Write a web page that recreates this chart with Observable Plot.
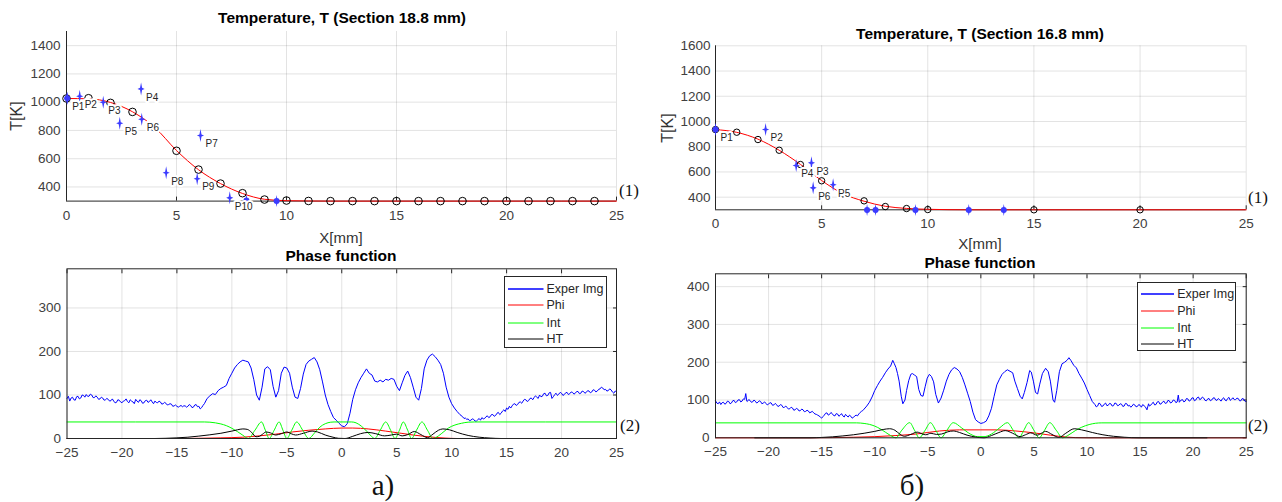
<!DOCTYPE html>
<html><head><meta charset="utf-8">
<script src="https://cdn.jsdelivr.net/npm/d3@7"></script>
<script src="https://cdn.jsdelivr.net/npm/@observablehq/plot@0.6"></script>
<style>
body{margin:0;background:#fff;}
#root{position:relative;width:1282px;height:502px;background:#fff;overflow:hidden;font-family:"Liberation Sans",Arial,sans-serif;color:#262626;}
.panel{position:absolute;}
.lbl{position:absolute;transform:translate(-50%,-50%);white-space:nowrap;line-height:1;}
.ttl{font-weight:bold;font-size:15.5px;color:#000;}
.axl{font-size:15px;color:#333;}
.ser{font-family:"Liberation Serif","DejaVu Serif",serif;color:#111;}
.legend{position:absolute;border:1px solid #262626;background:#fff;box-sizing:border-box;}
.legend .row{position:absolute;left:0;height:14px;transform:translateY(-50%);}
.legend .row span{position:absolute;top:0;font-size:12.5px;line-height:14px;color:#262626;white-space:nowrap;}
.legend .row svg{position:absolute;top:0;}
</style>
</head><body>
<div id="root">
  <div id="tl" class="panel" style="left:0;top:0;width:640px;"></div>
  <div id="tr" class="panel" style="left:641px;top:0;width:641px;"></div>
  <div id="bl" class="panel" style="left:0;top:250px;width:640px;"></div>
  <div id="br" class="panel" style="left:641px;top:250px;width:641px;"></div>
</div>
<script>
// ---------- tick values ----------
const xTicksTop = [0, 5, 10, 15, 20, 25];
const yTicksTL = [400, 600, 800, 1000, 1200, 1400];
const yTicksTR = [400, 600, 800, 1000, 1200, 1400, 1600];
const xTicksBot = [-25, -20, -15, -10, -5, 0, 5, 10, 15, 20, 25];
const yTicksBL = [0, 100, 200, 300];
const yTicksBR = [0, 100, 200, 300, 400];

// ---------- top-left (Section 18.8 mm) ----------
const circlesA = [[0,1026],[1,1028],[2,995],[3,931],[4,823],[5,656],[6,523],[7,424],[8,356],[9,311],[10,304],[11,301],[12,300],[13,300],[14,300],[15,300],[16,300],[17,300],[18,300],[19,300],[20,300],[21,300],[22,300],[23,300],[24,300]];
const fitA = [[0,1026],[1,1024],[2,998],[3,932],[4,823],[5,658],[6,522],[7,424],[8,354],[9,313],[10,303],[11,301],[12,300],[15,300],[20,300],[25,300]];
const pointsA = [
  {x:0.03, t:1028, name:"P1"}, {x:0.6, t:1042, name:"P2"}, {x:1.67, t:1000, name:"P3"},
  {x:3.39, t:1094, name:"P4"}, {x:2.42, t:851, name:"P5"}, {x:3.42, t:879, name:"P6"},
  {x:6.09, t:764, name:"P7"}, {x:4.53, t:500, name:"P8"}, {x:5.94, t:458, name:"P9"},
  {x:7.42, t:323, name:"P10"}
];
const blueDotsA = [[0.03,1028],[8.18,304],[9.55,300]];

// ---------- top-right (Section 16.8 mm) ----------
const circlesB = [[0,936],[1,915],[2,857],[3,772],[4,659],[5,530],[6,427],[7,371],[8,326],[9,310],[10,302],[15,300],[20,300]];
const fitB = [[0,936],[1,914],[2,860],[3,772],[4,660],[5,532],[6,428],[7,368],[8,328],[9,311],[10,304],[11,301],[12,300],[15,300],[20,300],[25,300]];
const pointsB = [
  {x:0.0, t:936, name:"P1"}, {x:2.36, t:936, name:"P2"}, {x:4.52, t:672, name:"P3"},
  {x:3.8, t:651, name:"P4"}, {x:5.54, t:498, name:"P5"}, {x:4.6, t:474, name:"P6"}
];
const blueDotsB = [[0.0,936],[7.14,298],[7.54,298],[9.42,298],[11.93,299],[13.58,299]];

// ---------- bottom-left (phase function a) ----------
const expA = [[-25,92],[-24.875,97],[-24.75,86],[-24.625,93],[-24.5,95],[-24.375,89],[-24.25,88],[-24.125,96],[-24,97],[-23.875,91],[-23.75,93],[-23.625,100],[-23.5,99],[-23.375,95],[-23.25,101],[-23.125,97],[-23,97],[-22.875,102],[-22.75,100],[-22.625,94],[-22.5,94],[-22.375,98],[-22.25,95],[-22.125,90],[-22,91],[-21.875,95],[-21.75,93],[-21.625,88],[-21.5,89],[-21.375,92],[-21.25,90],[-21.125,86],[-21,87],[-20.875,91],[-20.75,86],[-20.625,82],[-20.5,83],[-20.375,89],[-20.25,88],[-20.125,84],[-20,82],[-19.875,86],[-19.75,87],[-19.625,91],[-19.5,85],[-19.375,82],[-19.25,89],[-19.125,86],[-19,84],[-18.875,80],[-18.75,90],[-18.625,86],[-18.5,83],[-18.375,89],[-18.25,87],[-18.125,81],[-18,82],[-17.875,87],[-17.75,88],[-17.625,83],[-17.5,85],[-17.375,89],[-17.25,84],[-17.125,80],[-17,86],[-16.875,83],[-16.75,82],[-16.625,86],[-16.5,84],[-16.375,79],[-16.25,80],[-16.125,83],[-16,81],[-15.875,77],[-15.75,78],[-15.625,80],[-15.5,79],[-15.375,74],[-15.25,75],[-15.125,77],[-15,74],[-14.875,72],[-14.75,74],[-14.625,76],[-14.5,73],[-14.375,75],[-14.25,75],[-14.125,72],[-14,74],[-13.875,78],[-13.75,76],[-13.625,71],[-13.5,72],[-13.375,77],[-13.25,78],[-13.125,73],[-13,74],[-12.875,68],[-12.75,71],[-12.625,76],[-12.5,80],[-12.25,92],[-12,98],[-11.75,103],[-11.5,101],[-11.25,110],[-11,115],[-10.75,118],[-10.5,122],[-10.25,138],[-10,150],[-9.75,162],[-9.5,170],[-9.25,176],[-9,180],[-8.75,178],[-8.5,176],[-8.25,162],[-8,135],[-7.75,100],[-7.5,88],[-7.25,118],[-7,160],[-6.75,165],[-6.5,158],[-6.25,120],[-6,95],[-5.75,110],[-5.5,150],[-5.25,164],[-5,162],[-4.75,150],[-4.5,118],[-4.25,95],[-4,92],[-3.75,115],[-3.5,148],[-3.25,170],[-3,178],[-2.75,182],[-2.5,186],[-2.25,176],[-2,158],[-1.75,130],[-1.5,100],[-1.25,78],[-1,62],[-0.75,48],[-0.5,42],[-0.25,35],[0,29],[0.25,27],[0.5,34],[0.75,58],[1,90],[1.25,112],[1.5,128],[1.75,140],[2,150],[2.25,160],[2.5,150],[2.75,146],[3,132],[3.25,130],[3.5,134],[3.75,130],[4,136],[4.25,134],[4.5,138],[4.75,136],[5,120],[5.25,110],[5.5,128],[5.75,145],[6,155],[6.25,140],[6.5,118],[6.75,95],[7,88],[7.25,115],[7.5,160],[7.75,180],[8,190],[8.25,194],[8.5,188],[8.75,180],[9,170],[9.25,150],[9.5,118],[9.75,95],[10,80],[10.25,70],[10.5,62],[10.75,55],[11,50],[11.125,46],[11.25,47],[11.375,44],[11.5,45],[11.625,41],[11.75,42],[11.875,45],[12,44],[12.125,40],[12.25,40],[12.375,43],[12.5,46],[12.625,42],[12.75,48],[12.875,45],[13,46],[13.125,50],[13.25,52],[13.375,48],[13.5,50],[13.625,55],[13.75,55],[13.875,51],[14,53],[14.125,58],[14.25,60],[14.375,55],[14.5,58],[14.625,63],[14.75,66],[14.875,62],[15,70],[15.125,67],[15.25,74],[15.375,70],[15.5,75],[15.625,79],[15.75,80],[15.875,76],[16,78],[16.125,83],[16.25,84],[16.375,81],[16.5,86],[16.625,90],[16.75,89],[16.875,85],[17,87],[17.125,92],[17.25,93],[17.375,89],[17.5,94],[17.625,98],[17.75,95],[17.875,92],[18,100],[18.125,96],[18.25,97],[18.375,103],[18.5,104],[18.625,98],[18.75,99],[18.875,105],[19,106],[19.125,92],[19.25,96],[19.375,101],[19.5,104],[19.625,99],[19.75,102],[19.875,106],[20,104],[20.125,99],[20.25,101],[20.375,105],[20.5,106],[20.625,101],[20.75,103],[20.875,107],[21,106],[21.125,102],[21.25,104],[21.375,108],[21.5,108],[21.625,103],[21.75,104],[21.875,109],[22,108],[22.125,104],[22.25,106],[22.375,110],[22.5,109],[22.625,105],[22.75,107],[22.875,112],[23,111],[23.125,107],[23.25,109],[23.375,113],[23.5,114],[23.625,118],[23.75,116],[23.875,112],[24,113],[24.125,109],[24.25,110],[24.375,114],[24.5,112],[24.625,107],[24.75,104],[24.875,109],[25,108]];
const phiA = [[-25,0],[-15,0],[-13,0.5],[-11,1.5],[-9,3],[-7.5,6],[-6,10],[-4.5,15],[-3,19],[-1.5,22],[0,24],[1,24],[2.4,22],[4,17],[5.4,12],[6.5,8],[7.5,5],[8.5,2.5],[9.4,1],[10.5,0],[25,0]];
const intA = [[-25,38],[-12.5,38],[-12,37.5],[-11.5,36],[-11,33.5],[-10.5,29.5],[-10,23.5],[-9.5,16],[-9,7.5],[-8.5,0],[-7.9,19],[-7.3,38],[-6.95,19],[-6.6,0],[-6.15,19],[-5.7,38],[-5.35,19],[-5,0],[-4.55,19],[-4.1,38],[-3.55,19],[-3,0],[-2.5,12],[-2,26],[-1.5,34],[-1,37.5],[-0.7,38],[0.9,38],[1.3,36],[1.8,28],[2.3,16],[2.7,5],[3,0],[3.5,19],[4,38],[4.45,19],[4.85,0],[5.25,19],[5.6,38],[6,19],[6.35,0],[6.8,19],[7.3,38],[7.8,19],[8.3,0],[8.8,6],[9.3,16],[9.7,24],[10.3,31],[10.9,35],[11.5,37.5],[12.1,38],[25,38]];
const htA = [[-25,0],[-17,0],[-16,0.5],[-15,1.5],[-14,3],[-13,5.5],[-12,8.5],[-11,12],[-10,17],[-9.5,20],[-9,22],[-8.6,21],[-8.2,14],[-7.8,4],[-7.5,5],[-7.2,10],[-6.9,15],[-6.5,13],[-6,8],[-5.5,11],[-5,15],[-4.6,11],[-4.2,8],[-3.5,12],[-2.7,17],[-2.2,15],[-1.5,8],[-0.8,3],[-0.3,0.5],[0.3,0],[1,5],[1.7,11],[2.4,14],[3.1,11],[3.9,6],[4.5,8],[5,10],[5.5,6],[6,9],[6.6,16],[7.2,9],[7.8,2],[8.3,10],[8.8,19],[9.2,22],[9.8,20],[10.5,14],[11.5,7],[12.5,3],[13.5,1],[14.5,0],[25,0]];

// ---------- bottom-right (phase function б) ----------
const expB = [[-25,98],[-24.875,92],[-24.75,90],[-24.625,95],[-24.5,88],[-24.375,93],[-24.25,94],[-24.125,89],[-24,91],[-23.875,97],[-23.75,96],[-23.625,90],[-23.5,92],[-23.375,98],[-23.25,99],[-23.125,93],[-23,95],[-22.875,100],[-22.75,101],[-22.625,95],[-22.5,97],[-22.375,103],[-22.25,102],[-22.15,117],[-22.05,97],[-22,96],[-21.875,101],[-21.75,99],[-21.625,94],[-21.5,95],[-21.375,100],[-21.25,97],[-21.125,92],[-21,94],[-20.875,98],[-20.75,96],[-20.625,90],[-20.5,92],[-20.375,95],[-20.25,91],[-20.125,87],[-20,89],[-19.875,93],[-19.75,92],[-19.625,86],[-19.5,87],[-19.375,91],[-19.25,88],[-19.125,83],[-19,84],[-18.875,88],[-18.75,86],[-18.625,80],[-18.5,81],[-18.375,84],[-18.25,80],[-18.125,76],[-18,77],[-17.875,81],[-17.75,79],[-17.625,73],[-17.5,74],[-17.375,78],[-17.25,76],[-17.125,71],[-17,72],[-16.875,76],[-16.75,74],[-16.625,69],[-16.5,70],[-16.375,73],[-16.25,71],[-16.125,66],[-16,68],[-15.875,70],[-15.75,66],[-15.625,63],[-15.5,62],[-15.375,60],[-15.25,58],[-15.125,55],[-15,52],[-14.875,56],[-14.75,60],[-14.625,65],[-14.5,66],[-14.375,60],[-14.25,62],[-14.125,67],[-14,64],[-13.875,59],[-13.75,58],[-13.625,64],[-13.5,63],[-13.375,57],[-13.25,60],[-13.125,64],[-13,58],[-12.875,55],[-12.75,62],[-12.625,58],[-12.5,55],[-12.375,60],[-12.25,57],[-12.125,52],[-12,54],[-11.875,58],[-11.75,60],[-11.625,58],[-11.5,63],[-11.375,67],[-11.25,70],[-11.125,72],[-11,76],[-10.75,84],[-10.5,94],[-10.25,108],[-10,125],[-9.75,138],[-9.5,150],[-9.25,160],[-9,172],[-8.75,182],[-8.5,190],[-8.3,205],[-8.15,196],[-8,186],[-7.85,170],[-7.7,150],[-7.5,110],[-7.35,90],[-7.15,100],[-7,125],[-6.8,151],[-6.6,168],[-6.45,170],[-6.25,166],[-6.05,162],[-5.85,128],[-5.65,112],[-5.45,110],[-5.25,135],[-5.05,158],[-4.85,168],[-4.65,162],[-4.45,148],[-4.25,115],[-4,92],[-3.75,105],[-3.5,126],[-3.25,150],[-3,168],[-2.75,180],[-2.5,186],[-2.25,182],[-2,175],[-1.75,160],[-1.5,140],[-1.25,118],[-1,96],[-0.75,68],[-0.5,48],[-0.25,42],[0,38],[0.25,40],[0.5,44],[0.75,58],[1,78],[1.25,110],[1.5,140],[1.75,155],[2,168],[2.25,175],[2.5,180],[2.75,176],[3,172],[3.2,150],[3.45,130],[3.7,110],[3.9,103],[4.1,120],[4.35,146],[4.6,178],[4.75,174],[4.95,150],[5.15,120],[5.35,116],[5.55,142],[5.8,170],[6.1,184],[6.35,175],[6.55,150],[6.8,100],[6.95,94],[7.15,125],[7.4,175],[7.65,196],[7.9,200],[8.15,206],[8.3,212],[8.5,204],[8.75,192],[9,185],[9.25,170],[9.5,158],[9.75,145],[10,128],[10.25,112],[10.5,96],[10.75,88],[10.875,82],[11,84],[11.125,92],[11.25,90],[11.375,83],[11.5,84],[11.625,89],[11.75,92],[11.875,85],[12,86],[12.125,91],[12.25,90],[12.375,84],[12.5,85],[12.625,92],[12.75,91],[12.875,85],[13,86],[13.125,90],[13.25,89],[13.375,83],[13.5,84],[13.625,91],[13.75,90],[13.875,84],[14,86],[14.125,81],[14.25,84],[14.375,89],[14.5,87],[14.625,82],[14.75,83],[14.875,88],[15,86],[15.125,81],[15.25,88],[15.375,85],[15.5,82],[15.65,74],[15.8,90],[15.875,84],[16,86],[16.125,91],[16.25,94],[16.375,87],[16.5,88],[16.625,95],[16.75,96],[16.875,89],[17,90],[17.125,95],[17.25,97],[17.375,91],[17.5,92],[17.625,99],[17.75,98],[17.875,92],[18,94],[18.125,100],[18.25,99],[18.375,93],[18.5,95],[18.6,113],[18.7,94],[18.75,96],[18.875,100],[19,101],[19.125,95],[19.25,97],[19.375,104],[19.5,103],[19.625,97],[19.75,99],[19.875,105],[20,106],[20.125,98],[20.25,100],[20.375,106],[20.5,108],[20.625,101],[20.75,103],[20.875,108],[21,105],[21.125,99],[21.25,98],[21.375,103],[21.5,104],[21.625,98],[21.75,100],[21.875,105],[22,106],[22.125,100],[22.25,99],[22.375,104],[22.5,101],[22.625,97],[22.75,103],[22.875,106],[23,100],[23.125,98],[23.25,104],[23.375,107],[23.5,99],[23.625,102],[23.75,106],[23.875,101],[24,101],[24.125,105],[24.25,104],[24.375,98],[24.5,98],[24.625,104],[24.75,103],[24.875,97],[25,96]];
const phiB = [[-25,0],[-16,0],[-14,0.5],[-12,1.5],[-10,3],[-8,6],[-6.1,10],[-3.9,18],[-2,21],[0,21],[1.5,21],[3.3,18],[5,13],[5.8,10],[7.35,4],[8.9,0.5],[10,0],[25,0]];
const intB = [[-25,39.5],[-11.7,39.5],[-11,38],[-10.5,35.5],[-10,31],[-9.5,24],[-9,15],[-8.5,6],[-8,0],[-7.45,20],[-6.7,40],[-6.25,20],[-5.8,0],[-5.25,20],[-4.75,40],[-4.25,20],[-3.75,0],[-3.2,20],[-2.6,40],[-1.8,26],[-1,10],[-0.3,3],[0.3,3],[1,10],[1.8,27],[2.5,40],[3.05,20],[3.6,0],[4.05,20],[4.5,40],[5,20],[5.5,0],[6,20],[6.5,40],[7.1,20],[7.7,0],[8.3,8],[8.9,19],[9.5,28],[10.2,35],[10.8,38.5],[11.4,39.5],[25,39.5]];
const htB = [[-21.3,0],[-16,0],[-15,1],[-14,2.5],[-13,5],[-12,8],[-11,12],[-10,17],[-9.2,22],[-8.6,24],[-8.1,20],[-7.6,9],[-7.2,4],[-6.6,9],[-6,15],[-5.5,10],[-5.2,8],[-4.7,12],[-4.2,9],[-3.7,10],[-3.1,16],[-2.6,18],[-2,14],[-1.3,7],[-0.5,2],[0.3,0],[1,6],[1.7,14],[2.3,19],[3,12],[3.7,3],[4.2,8],[4.7,13],[5.3,7],[5.7,12],[6.1,17],[6.7,9],[7.35,1],[8,12],[8.8,24],[9.5,21],[10.5,14],[11.5,8],[12.5,4],[13.5,1.5],[14.9,0],[21.3,0]];

const legendNames = ["Exper Img", "Phi", "Int", "HT"];
const legendColors = ["#0000ff", "#ff0000", "#00ff00", "#000000"];

// ---------- shared styling ----------
const FONT = "'Liberation Sans', Arial, sans-serif";
const GRID = {stroke: "#262626", strokeOpacity: 0.13};
const AX = "#262626";
const BLUE = "#3c3cff";
const star4 = {
  draw(ctx, size) {
    const r = Math.sqrt(size / Math.PI);
    const h = r, w = r * 0.55, i = r * 0.16;
    ctx.moveTo(0, -h); ctx.lineTo(i, -i); ctx.lineTo(w, 0); ctx.lineTo(i, i);
    ctx.lineTo(0, h); ctx.lineTo(-i, i); ctx.lineTo(-w, 0); ctx.lineTo(-i, -i);
    ctx.closePath();
  }
};
const style = {fontFamily: FONT, fontSize: "13.5px", color: "#404040", background: "transparent", overflow: "visible"};
const noText = () => "";

function tempPlot(cfg) {
  return Plot.plot({
    width: cfg.width, height: 250,
    marginLeft: cfg.ml, marginRight: cfg.mr, marginTop: cfg.mt, marginBottom: cfg.mb,
    x: {domain: [0, 25]}, y: {domain: cfg.ydom},
    style,
    marks: [
      Plot.gridX({ticks: cfg.gx, ...GRID}),
      Plot.gridY({ticks: cfg.gy, ...GRID}),
      Plot.ruleX([0], {stroke: AX}),
      Plot.ruleY([cfg.ydom[0]], {stroke: AX}),
      Plot.axisX({ticks: xTicksTop, tickSize: 0, tickPadding: 9, tickFormat: "d", label: null}),
      Plot.axisX({ticks: xTicksTop, tickSize: -4, tickPadding: 0, tickFormat: noText, label: null, stroke: AX}),
      Plot.axisY({ticks: cfg.yt, tickSize: 0, tickPadding: cfg.yp, tickFormat: "d", label: null}),
      Plot.line(cfg.fit, {curve: "monotone-x", stroke: "#ff0000", strokeWidth: 1}),
      Plot.dot(cfg.circles, {r: cfg.cr, stroke: "#000", fill: "none", strokeWidth: 1}),
      Plot.dot(cfg.blue, {r: 3, fill: BLUE, stroke: "none"}),
      Plot.dot(cfg.blue, {r: 6, symbol: star4, fill: BLUE, stroke: "none"}),
      Plot.dot(cfg.points, {x: "x", y: "t", r: 6.5, symbol: star4, fill: BLUE, stroke: "none"}),
      Plot.text(cfg.points, {x: "x", y: "t", text: "name", dx: 5, dy: 8.5, textAnchor: "start",
        fontSize: 10, fill: "#262626", stroke: "white", strokeWidth: 4})
    ]
  });
}

function phasePlot(cfg) {
  return Plot.plot({
    width: cfg.width, height: 252,
    marginLeft: cfg.ml, marginRight: cfg.mr, marginTop: cfg.mt, marginBottom: cfg.mb,
    x: {domain: [-25, 25]}, y: {domain: cfg.ydom},
    style,
    marks: [
      Plot.gridX({ticks: xTicksBot, ...GRID}),
      Plot.gridY({ticks: cfg.yt, ...GRID}),
      Plot.axisX({ticks: xTicksBot, tickSize: 0, tickPadding: 9, tickFormat: "d", label: null}),
      Plot.axisX({anchor: "top", ticks: xTicksBot, tickSize: -4, tickPadding: 0, tickFormat: noText, label: null, stroke: AX}),
      Plot.axisY({ticks: cfg.yt, tickSize: 0, tickPadding: 6, tickFormat: "d", label: null}),
      Plot.axisY({anchor: "right", ticks: cfg.yt, tickSize: -4, tickPadding: 0, tickFormat: noText, label: null, stroke: AX}),
      Plot.line(cfg.exp, {stroke: "#0000ff", strokeWidth: 1}),
      Plot.line(cfg.phi, {curve: "monotone-x", stroke: "#ff0000", strokeWidth: 1}),
      Plot.line(cfg.int, {curve: "monotone-x", stroke: "#00ff00", strokeWidth: 1}),
      Plot.line(cfg.ht, {curve: "monotone-x", stroke: "#000000", strokeWidth: 1}),
      Plot.frame({stroke: AX, strokeWidth: 1})
    ]
  });
}

document.getElementById("tl").append(tempPlot({
  width: 640, ml: 66, mr: 24, mt: 31, mb: 49.4, ydom: [300, 1500],
  gx: [5, 10, 15, 20, 25], gy: yTicksTL, yt: yTicksTL, yp: 6,
  fit: fitA, circles: circlesA, points: pointsA, blue: blueDotsA, cr: 3.8
}));
document.getElementById("tr").append(tempPlot({
  width: 641, ml: 74, mr: 36.3, mt: 45.3, mb: 40.7, ydom: [300, 1600],
  gx: [5, 10, 15, 20, 25], gy: yTicksTR, yt: yTicksTR, yp: 5,
  fit: fitB, circles: circlesB, points: pointsB, blue: blueDotsB, cr: 3.2
}));
document.getElementById("bl").append(phasePlot({
  width: 640, ml: 66.5, mr: 24, mt: 18.3, mb: 64, ydom: [0, 390], yt: yTicksBL,
  exp: expA, phi: phiA, int: intA, ht: htA
}));
document.getElementById("br").append(phasePlot({
  width: 641, ml: 74, mr: 36.3, mt: 23.3, mb: 64.7, ydom: [0, 434], yt: yTicksBR,
  exp: expB, phi: phiB, int: intB, ht: htB
}));

// ---------- text overlays ----------
const root = document.getElementById("root");
function addText(txt, x, y, cls, extra) {
  const d = document.createElement("div");
  d.className = "lbl " + cls;
  d.textContent = txt;
  d.style.left = x + "px"; d.style.top = y + "px";
  if (extra) Object.assign(d.style, extra);
  root.append(d);
}
addText("Temperature, T (Section 18.8 mm)", 342, 18, "ttl");
addText("Temperature, T (Section 16.8 mm)", 980, 33.5, "ttl");
addText("Phase function", 341, 256, "ttl");
addText("Phase function", 980, 263, "ttl");
addText("X[mm]", 341, 237, "axl");
addText("X[mm]", 980, 243, "axl");
addText("T[K]", 17, 116, "axl", {transform: "translate(-50%,-50%) rotate(-90deg)", fontSize: "16px"});
addText("T[K]", 668, 128, "axl", {transform: "translate(-50%,-50%) rotate(-90deg)", fontSize: "16px"});
addText("(1)", 629, 190, "ser", {fontSize: "17px"});
addText("(1)", 1258, 197, "ser", {fontSize: "17px"});
addText("(2)", 630, 425, "ser", {fontSize: "17px"});
addText("(2)", 1258, 425, "ser", {fontSize: "17px"});
addText("a)", 383, 485, "ser", {fontSize: "29px"});
addText("б)", 912, 485, "ser", {fontSize: "29px"});

function addLegend(left, top, w, h, rows, x1, x2, tx) {
  const box = document.createElement("div");
  box.className = "legend";
  Object.assign(box.style, {left: left + "px", top: top + "px", width: w + "px", height: h + "px"});
  legendNames.forEach((name, i) => {
    const row = document.createElement("div");
    row.className = "row";
    row.style.top = rows[i] + "px";
    row.style.width = w + "px";
    const sw = i === 0 ? 1.6 : 1;
    row.innerHTML = `<svg width="${x2}" height="14" style="left:0"><line x1="${x1}" x2="${x2}" y1="7" y2="7" stroke="${legendColors[i]}" stroke-width="${sw}"/></svg><span style="left:${tx}px">${name}</span>`;
    box.append(row);
  });
  root.append(box);
}
addLegend(504, 276, 103, 72, [11.7, 28.3, 45.5, 62.3], 3, 38.5, 41.5);
addLegend(1136.7, 282.3, 99.5, 69, [11, 27.7, 44.4, 61], 3, 36.5, 39.5);
</script>
</body></html>
